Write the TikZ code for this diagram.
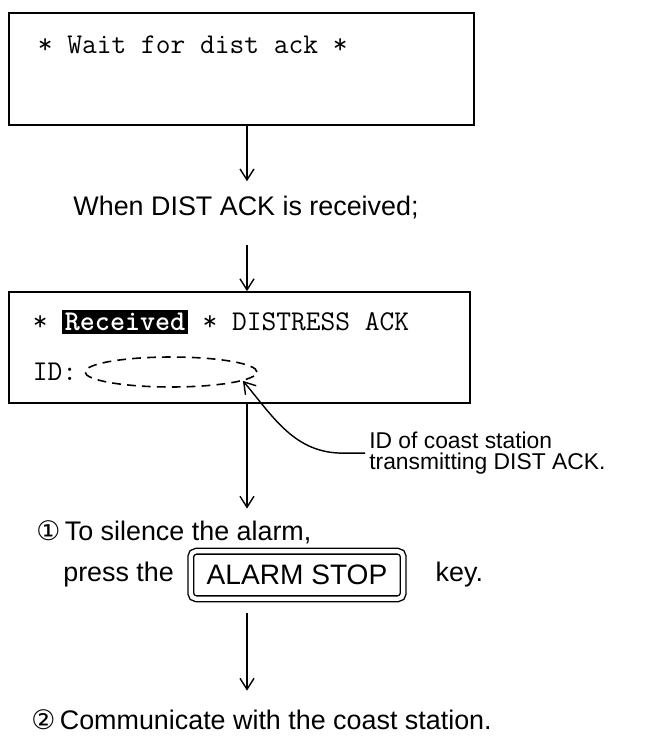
\documentclass[tikz,border=0pt]{standalone}
\usepackage{fontspec}
\setmainfont{Liberation Sans}
\newfontfamily\symfont{DejaVu Sans}
\usetikzlibrary{arrows.meta,positioning,shapes.geometric}

\begin{document}
\begin{tikzpicture}[
    x=0.02cm, y=-0.02cm,
    line width=0.9pt,
    screen/.style={rectangle,draw,line width=1pt,inner sep=0pt},
    mono/.style={font=\fontsize{16.3}{18}\selectfont\ttfamily,inner sep=0pt,anchor=west},
    say/.style={font=\fontsize{15.3}{17}\selectfont,inner sep=2pt},
    step text/.style={font=\fontsize{15.3}{17}\selectfont,inner sep=2pt,anchor=west},
    note/.style={font=\fontsize{13}{11.6}\selectfont,inner sep=2pt,align=left},
    keycap/.style={draw,rounded corners=3pt,double,double distance=2.4pt,line width=0.8pt,
        font=\fontsize{16}{17}\selectfont,minimum width=4.25cm,minimum height=0.95cm},
    field/.style={ellipse,draw,dash pattern=on 5pt off 3.5pt,inner sep=0pt,
        minimum width=3.44cm,minimum height=0.6cm},
    arrow/.style={-{Straight Barb[length=2.2mm,width=2.8mm]},line width=0.8pt}
]
\useasboundingbox (0,0) rectangle (650,750);
\coordinate (col) at (247,0);

% Pantalla de espera
\node[screen, minimum width=9.3cm, minimum height=2.24cm] (wait) at (241.5,69) {};
\node[mono] (waittxt) at (37,45) {* Wait for dist ack *};

\node[say] (when) at (246,207) {When DIST ACK is received;};

% Pantalla recibido
\node[screen, minimum width=9.22cm, minimum height=2.22cm] (recv) at (239.5,347.5) {};
\node[mono] (recvtxt) at (32,322) {* {\setlength\fboxsep{1.5pt}\colorbox{black}{\textcolor{white}{\bfseries Received}}} * DISTRESS ACK};
\node[mono] (idtxt) at (32,372) {ID:};
\node[field] (idfield) at (171,372) {};

\node[note, anchor=north west] (idnote) at (365,428) {ID of coast station\\transmitting DIST ACK.};

% Pasos
\node[step text] (step1) at (32,532) {{\symfont ①}\,To silence the alarm,};
\node[step text] (press) at (59,575) {press the};
\node[keycap] (key) at (297,575) {ALARM STOP};
\node[step text, right=0.55cm of key] (keyword) {key.};

\node[step text] (step2) at (27,720) {{\symfont ②}\,Communicate with the coast station.};

% Flechas
\draw[arrow, shorten >=0.2cm] (wait.south -| col) -- (when.north -| col);
\draw[arrow, shorten <=0.45cm] (when.south -| col) -- (recv.north -| col);
\draw[arrow, shorten >=0.15cm] (recv.south -| col) -- (step1.north -| col);
\draw[arrow, shorten <=0.28cm, shorten >=0.3cm] (key.south -| col) -- (step2.north -| col);
\draw[arrow] (idnote.west) -- ++(-22,0) to[out=180,in=-50] (idfield.-7);

\end{tikzpicture}
\end{document}
